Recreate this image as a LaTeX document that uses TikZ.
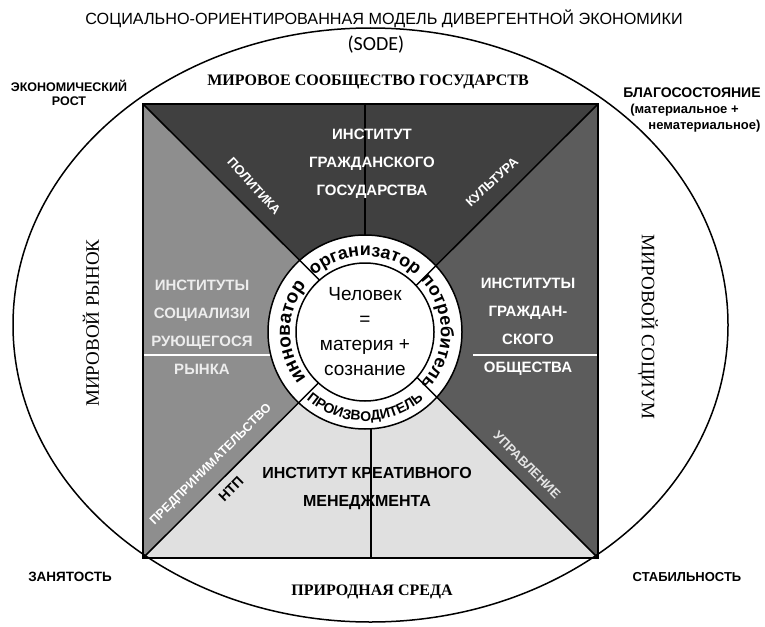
\documentclass[tikz,border=0pt]{standalone}
\usepackage{fontspec}
\setmainfont{Liberation Sans}
\newfontfamily\timesru{Liberation Serif}
\newfontfamily\calibri{Carlito}
\usetikzlibrary{decorations.text}

\definecolor{topgray}{HTML}{404040}
\definecolor{rightgray}{HTML}{5C5C5C}
\definecolor{leftgray}{HTML}{8E8E8E}
\definecolor{bottomgray}{HTML}{E0E0E0}

\begin{document}
\begin{tikzpicture}[x=1pt,y=1pt,
  caplbl/.style={font=\bfseries\fontsize{13}{14}\selectfont,align=center},
  worldlbl/.style={font=\timesru\fontsize{19}{19}\selectfont},
  instlbl/.style={font=\bfseries\fontsize{15}{28}\selectfont,align=center},
  sectorlbl/.style={font=\bfseries\fontsize{12.5}{12.5}\selectfont,text=white},
  ringtext/.style={decorate,decoration={text along path,text align=center,text={#1}}}]
\useasboundingbox (0,0) rectangle (765,-626);
% Drawing sectors
\coordinate (tl) at (143,-104);
\coordinate (tr) at (598,-104);
\coordinate (br) at (598,-558);
\coordinate (bl) at (143,-558);
\coordinate (mid) at (370.5,-331);
\coordinate (man) at (365,-332);
\fill[topgray] (tl) -- (tr) -- (mid) -- cycle;
\fill[rightgray] (tr) -- (br) -- (mid) -- cycle;
\fill[bottomgray] (br) -- (bl) -- (mid) -- cycle;
\fill[leftgray] (bl) -- (tl) -- (mid) -- cycle;
% Vertical and white splitting lines
\draw[line width=2pt] (365,-104) -- (365,-240);
\draw[line width=2pt] (371,-425) -- (371,-558);
\draw[white,line width=1.5pt] (143,-355) -- (270,-355);
\draw[white,line width=1.5pt] (473,-355) -- (598,-355);
% Done with sectors; drawing the ring
\fill[white] (man) circle (97);
\draw[line width=1.5pt] (tl) -- (br);
\draw[line width=1.5pt] (tr) -- (bl);
\filldraw[fill=white,line width=1.5pt] (man) circle (69);
\draw[line width=1.5pt] (man) circle (97);
\draw[line width=1.5pt] (tl) rectangle (br);
\draw[line width=1.5pt] (370.5,-325) ellipse (357.5 and 297);
% Ring texts
\path[ringtext={|\bfseries\fontsize{18}{18}\selectfont|организатор}] (man) ++(135:76) arc[start angle=135,end angle=45,radius=76];
\path[ringtext={|\bfseries\fontsize{18}{18}\selectfont|потребитель}] (man) ++(45:76) arc[start angle=45,end angle=-45,radius=76];
\path[ringtext={|\bfseries\fontsize{19}{19}\selectfont|инноватор}] (man) ++(225:75) arc[start angle=225,end angle=135,radius=75];
\path[ringtext={|\bfseries\fontsize{14}{14}\selectfont|ПРОИЗВОДИТЕЛЬ}] (man) ++(225:89) arc[start angle=225,end angle=315,radius=89];
\node[font=\fontsize{19}{25}\selectfont,align=center] (core) at (man) {Человек\\=\\материя +\\сознание};
% Institutes
\node[instlbl,text=white] (gos) at (372,-164) {ИНСТИТУТ\\ГРАЖДАНСКОГО\\ГОСУДАРСТВА};
\node[instlbl,text=white!93!black] (rynok) at (202,-327) {ИНСТИТУТЫ\\СОЦИАЛИЗИ\\РУЮЩЕГОСЯ\\РЫНКА};
\node[instlbl,text=white] (obsh) at (528,-327) {ИНСТИТУТЫ\\ГРАЖДАН-\\СКОГО\\ОБЩЕСТВА};
\node[instlbl,font=\bfseries\fontsize{16}{28}\selectfont] (kreat) at (367,-489) {ИНСТИТУТ КРЕАТИВНОГО\\МЕНЕДЖМЕНТА};
% Sector labels along the diagonals
\node[sectorlbl,font=\bfseries\fontsize{13}{13}\selectfont,rotate=-48] (polit) at (254,-186) {ПОЛИТИКА};
\node[sectorlbl,font=\bfseries\fontsize{13}{13}\selectfont,rotate=43] (kult) at (492,-182) {КУЛЬТУРА};
\node[sectorlbl,rotate=45] (predpr) at (211,-465) {ПРЕДПРИНИМАТЕЛЬСТВО};
\node[sectorlbl,text=black,font=\bfseries\fontsize{14}{14}\selectfont,rotate=45] (ntp) at (231,-489) {НТП};
\node[sectorlbl,font=\bfseries\fontsize{13}{13}\selectfont,text=white!90!black,rotate=-45] (uprav) at (527,-465) {УПРАВЛЕНИЕ};
% Outer labels
\node[font=\fontsize{16.2}{16.2}\selectfont] (title) at (384,-19) {СОЦИАЛЬНО-ОРИЕНТИРОВАННАЯ МОДЕЛЬ ДИВЕРГЕНТНОЙ ЭКОНОМИКИ};
\node[font=\calibri\fontsize{20}{20}\selectfont] (sode) at (376,-45) {(SODE)};
\node[font=\timesru\bfseries\fontsize{16}{16}\selectfont] (states) at (368,-82) {МИРОВОЕ СООБЩЕСТВО ГОСУДАРСТВ};
\node[font=\timesru\bfseries\fontsize{16}{16}\selectfont] (nature) at (372,-592) {ПРИРОДНАЯ СРЕДА};
\node[worldlbl,rotate=90] (market) at (91,-323) {МИРОВОЙ РЫНОК};
\node[worldlbl,rotate=-90] (socium) at (648,-327) {МИРОВОЙ СОЦИУМ};
\node[caplbl,font=\bfseries\fontsize{12.5}{14}\selectfont] (growth) at (69,-93) {ЭКОНОМИЧЕСКИЙ\\РОСТ};
\node[caplbl,align=left,font=\bfseries\fontsize{14}{16}\selectfont] (wealth) at (692,-110) {БЛАГОСОСТОЯНИЕ\\\hspace*{7pt}{\fontsize{13}{16}\selectfont(материальное +}\\\hspace*{25pt}{\fontsize{13}{16}\selectfont нематериальное)}};
\node[caplbl,font=\bfseries\fontsize{13.5}{14}\selectfont] (jobs) at (70,-577) {ЗАНЯТОСТЬ};
\node[caplbl] (stab) at (687,-577) {СТАБИЛЬНОСТЬ};
\end{tikzpicture}
\end{document}
